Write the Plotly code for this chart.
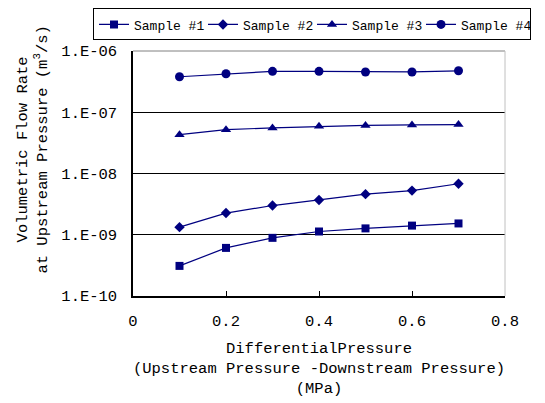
import plotly.graph_objects as go

pressure = [0.1, 0.2, 0.3, 0.4, 0.5, 0.6, 0.7]
sample1 = [3.1e-10, 6.1e-10, 8.9e-10, 1.13e-9, 1.27e-9, 1.41e-9, 1.53e-9]
sample2 = [1.33e-9, 2.26e-9, 3.0e-9, 3.7e-9, 4.6e-9, 5.26e-9, 6.8e-9]
sample3 = [4.3e-8, 5.2e-8, 5.55e-8, 5.9e-8, 6.1e-8, 6.2e-8, 6.3e-8]
sample4 = [3.8e-7, 4.25e-7, 4.65e-7, 4.65e-7, 4.55e-7, 4.55e-7, 4.75e-7]
names = ["Sample #1", "Sample #2", "Sample #3", "Sample #4"]
symbols = ["square", "diamond", "triangle-up", "circle"]
sizes = [8, 8, 9, 9]

y_tickvals = [1e-10, 1e-9, 1e-8, 1e-7, 1e-6]
y_ticktext = ["1.E-10", "1.E-09", "1.E-08", "1.E-07", "1.E-06"]
x_tickvals = [0, 0.2, 0.4, 0.6, 0.8]
x_ticktext = ["0", "0.2", "0.4", "0.6", "0.8"]
x_title = "DifferentialPressure<br>(Upstream Pressure -Downstream Pressure)<br>(MPa)"
y_title = "Volumetric Flow Rate<br>at Upstream Pressure (m<sup>3</sup>/s)"

navy = "#000080"
font = "Liberation Mono"

fig = go.Figure()
for name, vals, sym, sz in zip(names, [sample1, sample2, sample3, sample4], symbols, sizes):
    fig.add_trace(go.Scatter(
        x=pressure, y=vals, name=name, mode="lines+markers",
        line=dict(color=navy, width=1.2),
        marker=dict(symbol=sym, size=sz, color=navy),
    ))

fig.update_layout(
    width=545, height=403,
    paper_bgcolor="white", plot_bgcolor="white",
    margin=dict(l=125, r=48, t=43, b=115, autoexpand=False),
    font=dict(family=font, size=15.5, color="black"),
    showlegend=True,
    legend=dict(orientation="h", x=-0.1075, xanchor="left", y=1.1735, yanchor="top",
                xref="paper", yref="paper",
                bordercolor="black", borderwidth=1, bgcolor="white",
                font=dict(family=font, size=13), itemwidth=30,
                entrywidth=64, tracegroupgap=0),
    xaxis=dict(range=[0, 0.8], tickvals=x_tickvals, ticktext=x_ticktext,
               ticks="inside", ticklen=5, tickcolor="black",
               showline=True, linecolor="black", linewidth=1.5, mirror=False,
               showgrid=False, zeroline=False, automargin=False,
               ticklabelstandoff=10,
               title=dict(text=x_title, font=dict(family=font, size=15.5), standoff=12)),
    yaxis=dict(type="log", range=[-10, -6], tickvals=y_tickvals, ticktext=y_ticktext,
               ticks="inside", ticklen=5, tickcolor="black",
               showline=True, linecolor="black", linewidth=1.5,
               showgrid=True, gridcolor="black", gridwidth=1, zeroline=False,
               automargin=False, ticklabelstandoff=11),
    annotations=[dict(text=y_title, xref="paper", yref="paper", x=-0.27, y=0.596,
                      xanchor="center", yanchor="middle", textangle=-90,
                      showarrow=False, font=dict(family=font, size=15.5))],
)

# gray frame on top and right
fig.add_shape(type="line", xref="paper", yref="paper", x0=0, x1=1, y0=1, y1=1,
              line=dict(color="#808080", width=1))
fig.add_shape(type="line", xref="paper", yref="paper", x0=1, x1=1, y0=0, y1=1,
              line=dict(color="#c0c0c0", width=1))

fig.write_html("out.html")
